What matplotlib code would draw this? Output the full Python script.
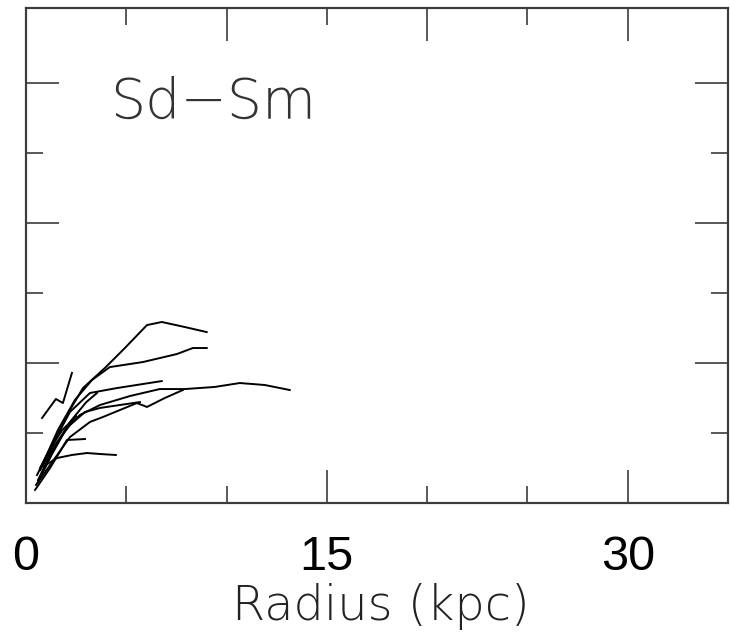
import matplotlib
matplotlib.use("Agg")
import matplotlib.pyplot as plt
from matplotlib.ticker import FixedLocator, NullFormatter

# rotation curves, radius in kpc and velocity (arbitrary units, no y labels)
r_a = [0.70, 1.44, 2.19, 2.84, 3.93, 4.93, 6.03, 6.77, 7.92, 9.01]
v_a = [23.6, 45.0, 66.4, 82.1, 96.4, 110.7, 127.1, 129.3, 125.7, 122.1]
r_b = [0.80, 1.59, 2.44, 3.29, 4.18, 5.83, 7.52, 8.32, 9.01]
v_b = [27.1, 52.1, 73.6, 87.9, 97.1, 100.7, 106.4, 110.7, 110.7]
r_c = [0.60, 1.20, 1.94, 2.69, 3.69, 5.18, 6.67, 7.92, 9.41, 10.66, 11.90, 13.15]
v_c = [16.4, 34.3, 52.1, 62.9, 70.0, 76.4, 81.4, 81.4, 82.9, 85.7, 84.3, 80.7]
r_d = [0.70, 1.44, 2.19, 3.19, 4.53, 6.77]
v_d = [25.0, 45.0, 65.0, 78.6, 82.1, 87.1]
r_e = [0.50, 1.20, 2.19, 3.19, 3.83, 4.68, 5.53, 6.03, 6.92, 7.82]
v_e = [12.9, 27.1, 47.1, 57.9, 61.4, 66.4, 71.4, 68.6, 75.0, 80.7]
r_f = [0.70, 1.44, 2.19, 2.94, 3.69, 4.68, 5.68]
v_f = [23.6, 41.4, 55.7, 65.0, 67.9, 70.0, 72.1]
r_g = [0.45, 1.20, 2.04, 2.94]
v_g = [9.3, 25.0, 45.0, 45.7]
r_h = [0.90, 1.54, 2.29, 3.04, 3.69, 4.48]
v_h = [26.4, 32.1, 34.3, 35.7, 35.0, 34.3]
r_i = [0.80, 1.49, 1.84, 2.29]
v_i = [60.7, 74.3, 71.4, 92.9]
r_j = [0.60, 1.30, 2.20, 3.00, 3.54]
v_j = [15.0, 35.0, 58.0, 72.0, 78.6]
r_k = [0.55, 1.10, 1.80, 2.50]
v_k = [20.0, 36.0, 52.0, 62.0]

curves = [(r_a, v_a), (r_b, v_b), (r_c, v_c), (r_d, v_d), (r_e, v_e),
          (r_f, v_f), (r_g, v_g), (r_h, v_h), (r_i, v_i), (r_j, v_j),
          (r_k, v_k)]

bottom_major = [0, 15, 30]
bottom_minor = [5, 10, 20, 25]
top_major = [10, 20, 30]
top_minor = [5, 15, 25]
side_major = [0, 100, 200, 300]
side_minor = [50, 150, 250]

frame = "#3c3c3c"

fig = plt.figure(figsize=(7.3, 6.32), dpi=100)
ax = fig.add_axes([26/730, 129/632, 702/730, 495/632])

for r, v in curves:
    ax.plot(r, v, color="black", lw=1.4)

ax.set_xlim(0, 35)
ax.set_ylim(0, 353.6)

ax.xaxis.set_major_locator(FixedLocator(bottom_major))
ax.xaxis.set_minor_locator(FixedLocator(bottom_minor))
ax.set_xticklabels([str(t) for t in bottom_major])
ax.yaxis.set_major_locator(FixedLocator(side_major))
ax.yaxis.set_minor_locator(FixedLocator(side_minor))
ax.yaxis.set_major_formatter(NullFormatter())

ax.tick_params(which="both", direction="in", top=False, right=True,
               color=frame, width=1.2)
ax.tick_params(which="major", length=24)
ax.tick_params(which="minor", length=12)
ax.tick_params(axis="x", which="major", pad=23, labelsize=35)
for lab in ax.get_xticklabels():
    lab.set_fontfamily("Liberation Sans")

ax2 = ax.twiny()
ax2.set_xlim(0, 35)
ax2.xaxis.set_major_locator(FixedLocator(top_major))
ax2.xaxis.set_minor_locator(FixedLocator(top_minor))
ax2.xaxis.set_major_formatter(NullFormatter())
ax2.tick_params(which="both", direction="in", color=frame, width=1.2)
ax2.tick_params(which="major", length=24)
ax2.tick_params(which="minor", length=12)

for a in (ax, ax2):
    for s in a.spines.values():
        s.set_color(frame)
        s.set_linewidth(1.5)

ax.text((110-26)/702, (503-118)/495, "Sd\u2212Sm", transform=ax.transAxes,
        fontsize=40, fontweight="light", color="#333333", family="DejaVu Sans",
        ha="left", va="baseline")
fig.text(381/730, (632-620)/632, "Radius (kpc)", fontsize=34.5,
         fontweight="light", color="#222222", family="DejaVu Sans",
         ha="center", va="baseline")

fig.savefig("out.png", dpi=100)
